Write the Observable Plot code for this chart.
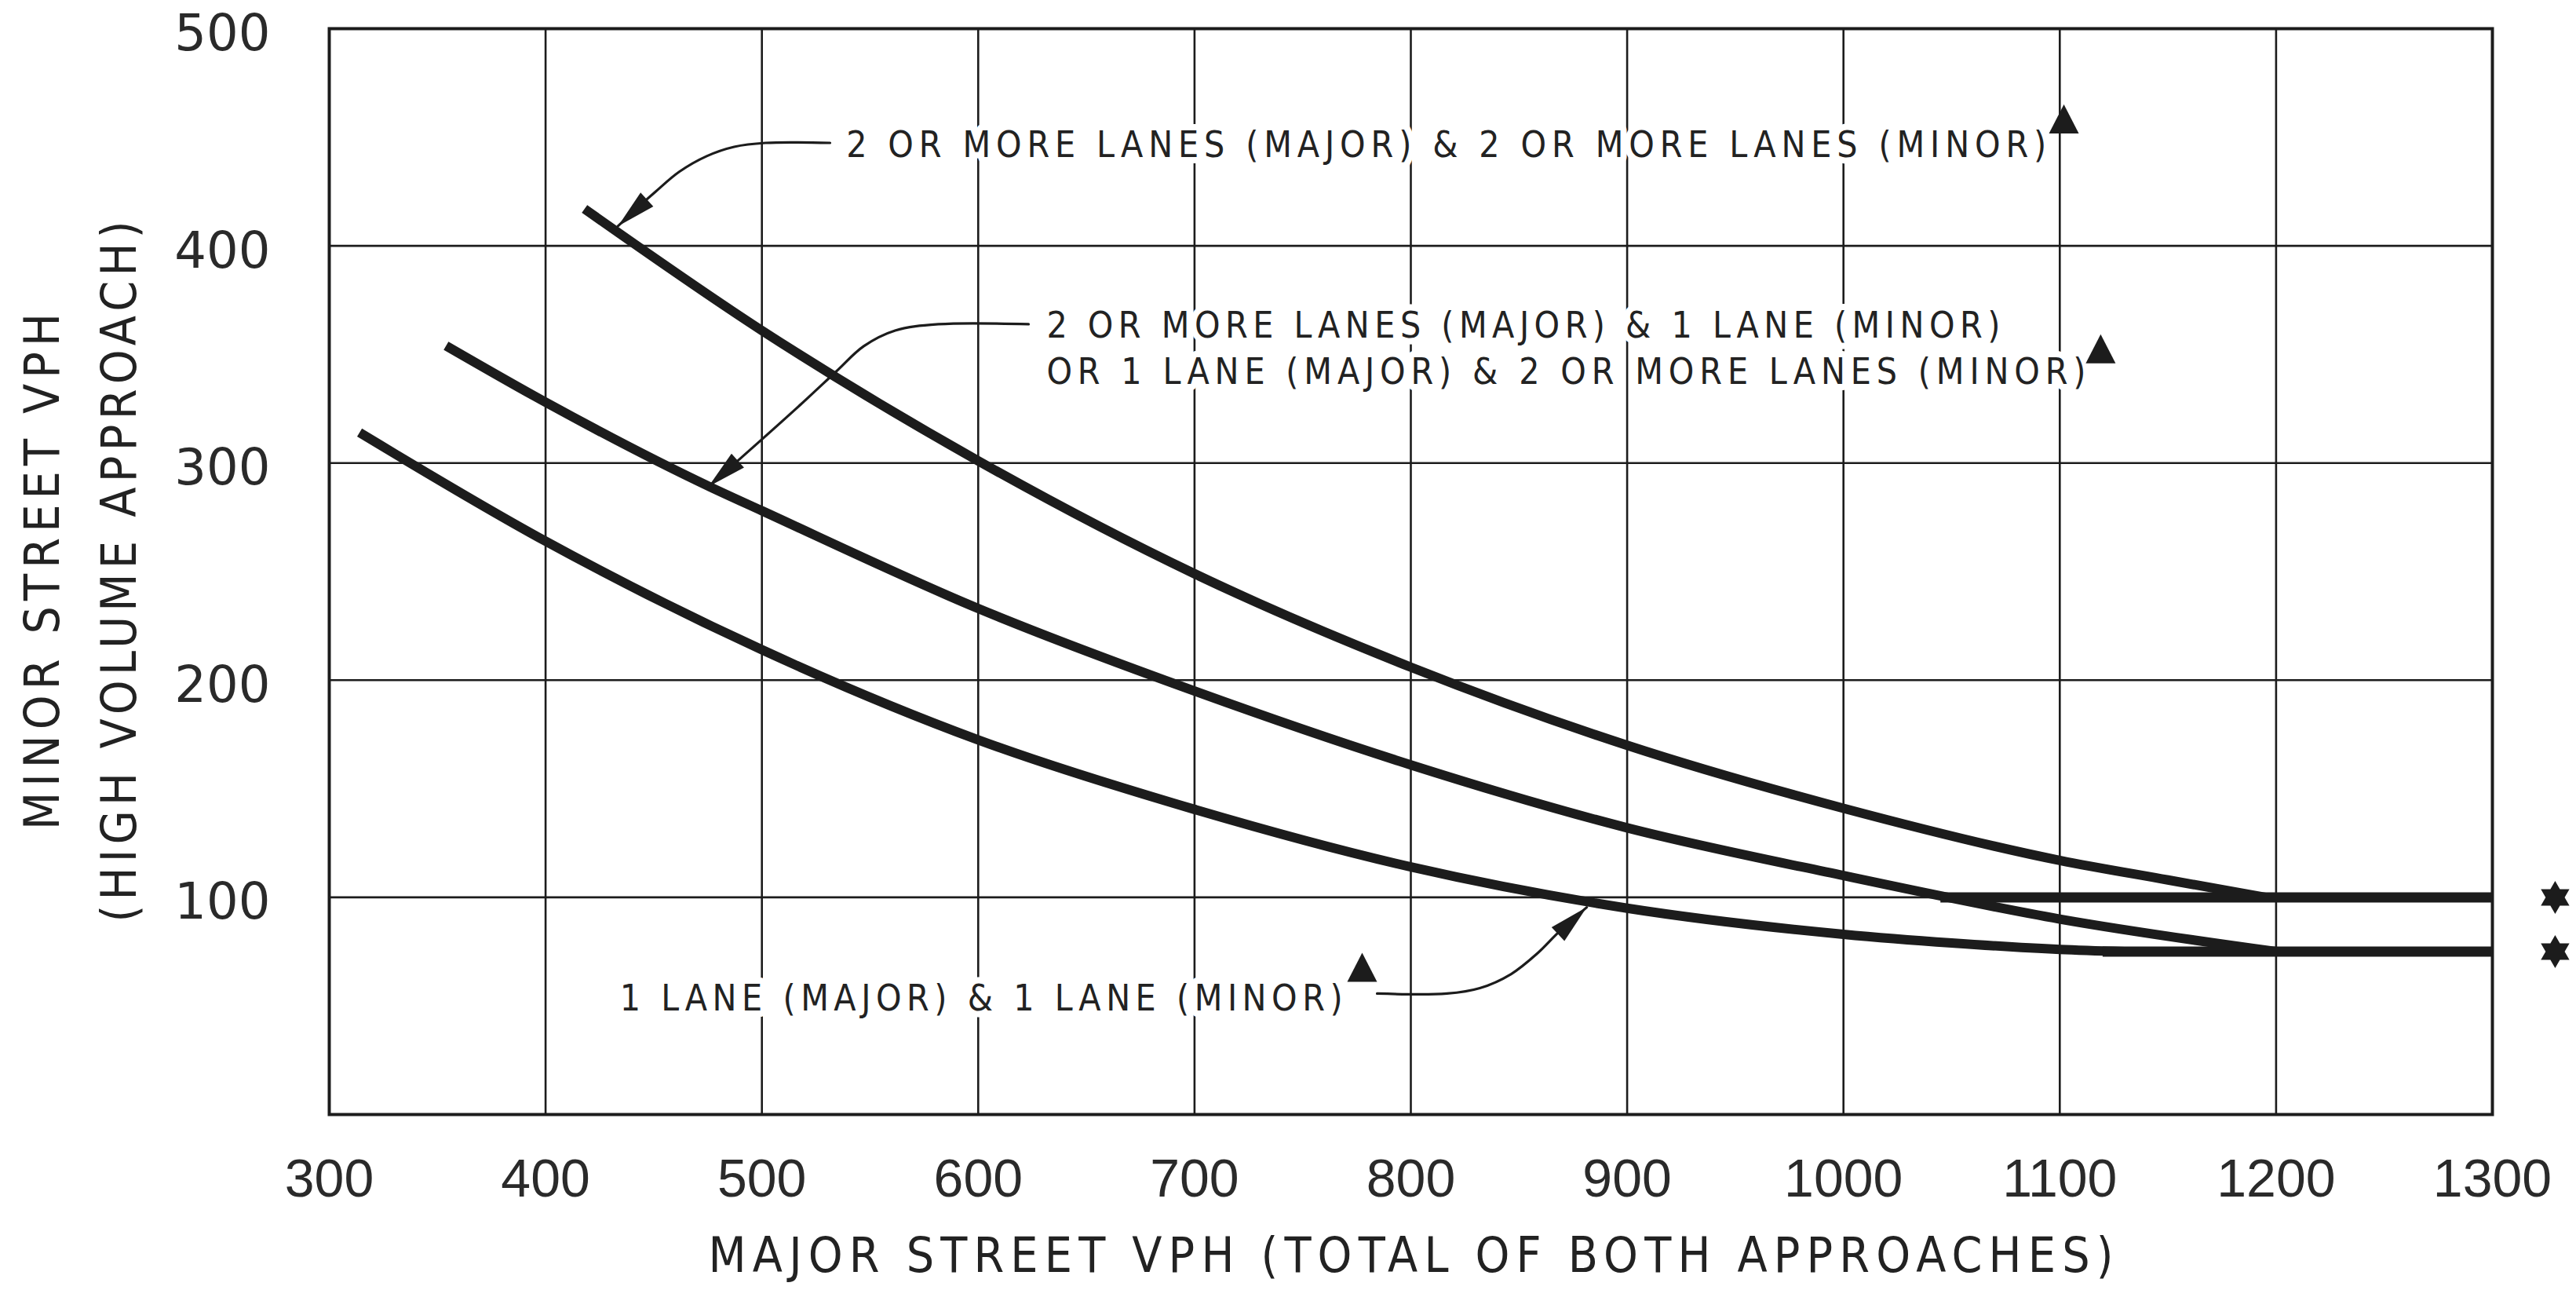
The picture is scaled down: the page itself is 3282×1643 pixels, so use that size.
<!DOCTYPE html>
<html><head><meta charset="utf-8">
<script src="https://cdn.jsdelivr.net/npm/d3@7"></script>
<script src="https://cdn.jsdelivr.net/npm/@observablehq/plot@0.6"></script>
<style>
html,body{margin:0;padding:0;background:#fff;}
</style>
</head><body><div id="chart"></div>
<script>
// ---------- DATA ----------
const xTicks = [300, 400, 500, 600, 700, 800, 900, 1000, 1100, 1200, 1300];
const yTicks = [100, 200, 300, 400, 500];

// 2 or more lanes (major) & 2 or more lanes (minor)
const curve22X = [418, 500, 600, 700, 800, 900, 1000, 1100, 1150, 1195];
const curve22Y = [417, 361, 301, 249, 206, 170, 141, 117, 108, 100];
// 2 or more lanes & 1 lane  /  1 lane & 2 or more lanes
const curve21X = [354, 400, 476, 500, 600, 700, 800, 900, 1000, 1100, 1200];
const curve21Y = [354, 328, 289, 278, 233, 195, 161, 132, 110, 90, 75];
// 1 lane & 1 lane
const curve11X = [314, 400, 500, 600, 700, 800, 900, 1000, 1050, 1100, 1130];
const curve11Y = [314, 264, 214, 172.5, 140.5, 114, 95, 83, 79, 76, 75];

// lower threshold volumes (flat parts)
const thresholdY = [100, 75];
const thresholdX1 = [1045, 1120];
const thresholdX2 = [1300, 1300];

// annotation labels
const labelText = [
  "2 OR MORE LANES (MAJOR) & 2 OR MORE LANES (MINOR)",
  "2 OR MORE LANES (MAJOR) & 1 LANE (MINOR)",
  "OR 1 LANE (MAJOR) & 2 OR MORE LANES (MINOR)",
  "1 LANE (MAJOR) & 1 LANE (MINOR)"
];
const labelX = [539, 631.6, 631.6, 434.3];
const labelY = [446.3, 363.0, 341.9, 53.3];

// leader arrows
const arrow1X = [531.5, 501.7, 487.2, 474.5, 461.8, 450.9, 441.9, 433.5];
const arrow1Y = [447.4, 447.4, 445.6, 441.3, 434.1, 425.0, 417.0, 409.1];
const arrow2X = [623.3, 581.6, 561.6, 547.1, 534.4, 518.1, 496.3, 475.3];
const arrow2Y = [363.9, 363.9, 361.0, 353.8, 342.2, 327.1, 307.6, 289.1];
const arrow3X = [784.4, 816.7, 831.9, 846.4, 858.4, 868.2, 881.3];
const arrow3Y = [55.7, 55.7, 58.2, 64.7, 74.1, 83.8, 95.4];

// triangle note markers and star markers
const triX = [1101.9, 1118.9, 777.5];
const triY = [457.9, 352.0, 67.2];
const starX = [1329, 1329];
const starY = [100, 75];

const xTitle = "MAJOR STREET VPH (TOTAL OF BOTH APPROACHES)";
const yTitle1 = "MINOR STREET VPH";
const yTitle2 = "(HIGH VOLUME APPROACH)";

// ---------- LAYOUT ----------
const W = 3282, H = 1643;
const M = {top: 36, right: 107, bottom: 224, left: 419};
const xDomain = [300, 1300], yDomain = [0, 500];
const pxX = (W - M.left - M.right) / (xDomain[1] - xDomain[0]);
const pxY = (H - M.top - M.bottom) / (yDomain[1] - yDomain[0]);
const INK = "#1c1c1c";
const LABEL_FONT = "'DejaVu Sans Condensed', 'DejaVu Sans', sans-serif";

const textWidths = new Map([
  [labelText[0], 1529], [labelText[1], 1215], [labelText[2], 1324], [labelText[3], 921],
  [xTitle, 1790], [yTitle1, 658], [yTitle2, 893]
]);

const pts = (xs, ys) => xs.map((x, i) => ({x, y: ys[i]}));
const curves = [pts(curve22X, curve22Y), pts(curve21X, curve21Y), pts(curve11X, curve11Y)];
const arrows = [pts(arrow1X, arrow1Y), pts(arrow2X, arrow2Y), pts(arrow3X, arrow3Y)];
const heads = arrows.map(a => {
  const p = a[a.length - 1], q = a[a.length - 3];
  const ang = Math.atan2(-(p.y - q.y) * pxY, (p.x - q.x) * pxX) * 180 / Math.PI;
  return {x: p.x, y: p.y, rotate: ang};
});
const thresholds = thresholdY.map((y, i) => ({y, x1: thresholdX1[i], x2: thresholdX2[i]}));
const labels = labelText.map((t, i) => ({t, x: labelX[i], y: labelY[i]}));
const tris = pts(triX, triY);
const stars = pts(starX, starY);

// custom symbols
const arrowHead = {draw(ctx) { const L = 50, w = 12; ctx.moveTo(0, 0); ctx.lineTo(-L, w); ctx.lineTo(-L, -w); ctx.closePath(); }};
const noteTri = {draw(ctx) { ctx.moveTo(0, -20); ctx.lineTo(19, 17); ctx.lineTo(-19, 17); ctx.closePath(); }};
const hexagram = {draw(ctx) {
  const R = 21, r = R / Math.sqrt(3);
  for (let k = 0; k < 12; k++) {
    const a = -Math.PI / 2 + k * Math.PI / 6, rr = k % 2 ? r : R;
    const px = rr * Math.cos(a), py = rr * Math.sin(a);
    if (k === 0) ctx.moveTo(px, py); else ctx.lineTo(px, py);
  }
  ctx.closePath();
}};

const plot = Plot.plot({
  width: W, height: H,
  marginTop: M.top, marginRight: M.right, marginBottom: M.bottom, marginLeft: M.left,
  x: {domain: xDomain, label: null},
  y: {domain: yDomain, label: null},
  style: {background: "#fff", color: INK},
  marks: [
    Plot.gridX(xTicks.slice(1, -1), {stroke: INK, strokeOpacity: 1, strokeWidth: 2.6}),
    Plot.gridY(yTicks.slice(0, -1), {stroke: INK, strokeOpacity: 1, strokeWidth: 2.6}),
    Plot.frame({stroke: INK, strokeWidth: 4}),
    Plot.axisX(xTicks, {tickSize: 0, tickPadding: 56, fontSize: 68, fontFamily: "'Liberation Sans', Arial, sans-serif", tickFormat: d => String(d), label: null, fill: "#2a2a2a"}),
    Plot.axisY(yTicks, {tickSize: 0, tickPadding: 75, fontSize: 64, fontFamily: "'DejaVu Sans', sans-serif", tickFormat: d => String(d), label: null, dy: 7, fill: "#2a2a2a"}),
    // label halos + text
    Plot.text(labels, {x: "x", y: "y", text: "t", textAnchor: "start", fontSize: 46, fontFamily: LABEL_FONT, fill: "#222", stroke: "#fff", strokeWidth: 16, strokeLinejoin: "round"}),
    // curves
    ...curves.map(c => Plot.line(c, {x: "x", y: "y", curve: "monotone-x", stroke: INK, strokeWidth: 12, strokeLinecap: "butt"})),
    Plot.ruleY(thresholds, {y: "y", x1: "x1", x2: "x2", stroke: INK, strokeWidth: 13}),
    // leader arrows
    ...arrows.map(a => Plot.line(a, {x: "x", y: "y", curve: "catmull-rom", stroke: INK, strokeWidth: 3.2})),
    Plot.dot(heads, {x: "x", y: "y", rotate: "rotate", symbol: arrowHead, fill: INK, stroke: "none", r: 1}),
    Plot.dot(tris, {x: "x", y: "y", symbol: noteTri, fill: INK, stroke: "none", r: 1}),
    Plot.dot(stars, {x: "x", y: "y", symbol: hexagram, fill: INK, stroke: "none", r: 1}),
    // axis titles
    Plot.text([xTitle], {text: d => d, frameAnchor: "bottom", textAnchor: "middle", dy: 200, fontSize: 62, fontFamily: LABEL_FONT, fill: "#222"}),
    Plot.text([yTitle1], {text: d => d, frameAnchor: "left", textAnchor: "middle", dx: -364, rotate: -90, fontSize: 62, fontFamily: LABEL_FONT, fill: "#222"}),
    Plot.text([yTitle2], {text: d => d, frameAnchor: "left", textAnchor: "middle", dx: -266, rotate: -90, fontSize: 62, fontFamily: LABEL_FONT, fill: "#222"})
  ]
});

document.getElementById("chart").appendChild(plot);
d3.select(plot).selectAll("text").each(function() {
  const t = this.textContent;
  if (textWidths.has(t)) {
    d3.select(this).attr("textLength", textWidths.get(t)).attr("lengthAdjust", "spacing");
  }
});
</script>
</body></html>
